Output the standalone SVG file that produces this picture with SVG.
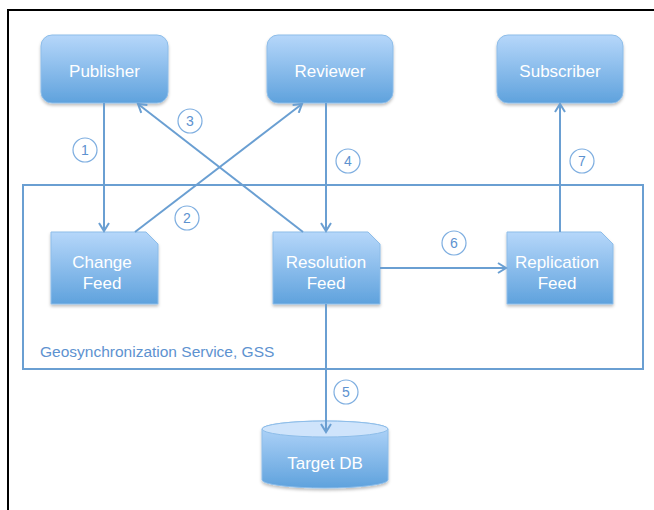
<svg xmlns="http://www.w3.org/2000/svg" width="654" height="510" viewBox="0 0 654 510">
<defs>
<linearGradient id="g" x1="0" y1="0" x2="0" y2="1">
<stop offset="0" stop-color="#b6d7fa"/>
<stop offset="1" stop-color="#5fa2dd"/>
</linearGradient>
<filter id="sh" x="-10%" y="-10%" width="120%" height="130%">
<feDropShadow dx="0" dy="2" stdDeviation="1.5" flood-color="#000" flood-opacity="0.25"/>
</filter>
<marker id="ah" viewBox="0 0 12 12" refX="10" refY="6" markerWidth="12" markerHeight="12" markerUnits="userSpaceOnUse" orient="auto">
<path d="M2,1 L10,6 L2,11" fill="none" stroke="#6a9fd2" stroke-width="2"/>
</marker>
<style>
.n{fill:url(#g);stroke:#8dbde9;stroke-width:1;filter:url(#sh)}
.t{font-family:"Liberation Sans",Arial,sans-serif;font-size:17px;fill:#ffffff;text-anchor:middle}
.c{stroke:#6a9fd2;stroke-width:2;fill:none}
.b{fill:#fff;stroke:#7eaee0;stroke-width:1.2}
.bt{font-family:"Liberation Sans",Arial,sans-serif;font-size:14px;fill:#5d92d0;text-anchor:middle}
</style>
</defs>
<rect width="654" height="510" fill="#fff"/>
<path d="M654,10 H8 V510" fill="none" stroke="#000" stroke-width="2"/>
<g id="gss">
<rect x="23" y="185" width="620" height="184" fill="none" stroke="#6a9fd2" stroke-width="2"/>
<text x="40" y="357" font-family="'Liberation Sans',Arial,sans-serif" font-size="15.5" fill="#5d92d0">Geosynchronization Service, GSS</text>
</g>
<g id="publisher">
<rect class="n" x="41" y="35" width="127" height="68" rx="11"/>
<text class="t" x="104.5" y="77">Publisher</text>
</g>
<g id="reviewer">
<rect class="n" x="267" y="35" width="126" height="68" rx="11"/>
<text class="t" x="330" y="77">Reviewer</text>
</g>
<g id="subscriber">
<rect class="n" x="497" y="35" width="126" height="68" rx="11"/>
<text class="t" x="560" y="77">Subscriber</text>
</g>
<g id="change-feed">
<path class="n" d="M51,232 H146 L158,244 V304 H51 Z"/>
<text class="t" x="102" y="268">Change</text>
<text class="t" x="102" y="289">Feed</text>
</g>
<g id="resolution-feed">
<path class="n" d="M273,232 H368 L380,244 V304 H273 Z"/>
<text class="t" x="326" y="268">Resolution</text>
<text class="t" x="326" y="289">Feed</text>
</g>
<g id="replication-feed">
<path class="n" d="M507,232 H601 L613,244 V304 H507 Z"/>
<text class="t" x="557" y="268">Replication</text>
<text class="t" x="557" y="289">Feed</text>
</g>
<g id="target-db">
<path class="n" d="M262,429 A63,8 0 0 1 388,429 V480 A63,8 0 0 1 262,480 Z"/>
<ellipse cx="325" cy="429" rx="63" ry="8" fill="#cfe4fb" stroke="#8dbde9" stroke-width="1"/>
<text class="t" x="325" y="469">Target DB</text>
</g>
<g id="connectors">
<line class="c" x1="104" y1="103" x2="104" y2="231" marker-end="url(#ah)"/>
<line class="c" x1="135" y1="232" x2="302" y2="104" marker-end="url(#ah)"/>
<line class="c" x1="303" y1="232" x2="138" y2="104" marker-end="url(#ah)"/>
<line class="c" x1="326" y1="103" x2="326" y2="231" marker-end="url(#ah)"/>
<line class="c" x1="326" y1="304" x2="326" y2="432" marker-end="url(#ah)"/>
<line class="c" x1="380" y1="268" x2="506" y2="268" marker-end="url(#ah)"/>
<line class="c" x1="560" y1="232" x2="560" y2="104" marker-end="url(#ah)"/>
<circle class="b" cx="85" cy="150" r="12"/><text class="bt" x="85" y="155">1</text>
<circle class="b" cx="187" cy="218" r="12"/><text class="bt" x="187" y="223">2</text>
<circle class="b" cx="190" cy="121" r="12"/><text class="bt" x="190" y="126">3</text>
<circle class="b" cx="348" cy="161" r="12"/><text class="bt" x="348" y="166">4</text>
<circle class="b" cx="346" cy="392" r="12"/><text class="bt" x="346" y="397">5</text>
<circle class="b" cx="454" cy="243" r="12"/><text class="bt" x="454" y="248">6</text>
<circle class="b" cx="582" cy="161" r="12"/><text class="bt" x="582" y="166">7</text>
</g>
</svg>
